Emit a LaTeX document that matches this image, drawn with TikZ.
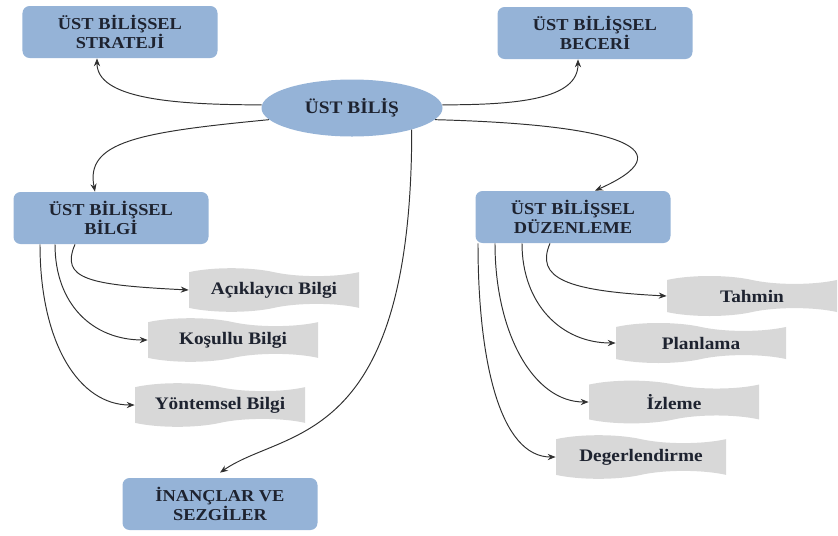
\documentclass[tikz,border=0pt]{standalone}
\usepackage{fontspec}
\setmainfont[FakeStretch=1.1]{Liberation Serif}
\usepackage{tikz}
\usetikzlibrary{arrows.meta,positioning,shapes.geometric,shapes.symbols}
\definecolor{mapblue}{HTML}{95B3D7}
\definecolor{mapgray}{HTML}{D8D8D8}
\definecolor{mapink}{HTML}{1E2330}
\definecolor{mapline}{HTML}{303030}

\begin{document}
\begin{tikzpicture}[
  box/.style={fill=mapblue, rounded corners=4pt, minimum width=3.9cm, minimum height=1.04cm, align=center, inner sep=2pt, font=\fontsize{9.5}{11}\selectfont\bfseries, text=mapink},
  bubble/.style={ellipse, fill=mapblue, minimum width=3.62cm, minimum height=1.14cm, font=\fontsize{10}{12}\selectfont\bfseries, text=mapink},
  flag/.style={tape, fill=mapgray, tape bend top=out and in, tape bend bottom=in and out, tape bend height=4.5pt, minimum width=3.4cm, minimum height=0.8cm, font=\fontsize{10}{12}\selectfont\bfseries, text=mapink},
  arr/.style={-{Stealth[length=4.5pt,width=3.5pt]}, draw=mapline, line width=0.55pt},
]
\useasboundingbox (0,0) rectangle (16.76,-10.7);

% Centre
\node[bubble] (ustbilis) at (7.04,-2.16) {ÜST BİLİŞ};

% Main boxes
\node[box] (strateji) at (2.40,-0.64) {ÜST BİLİŞSEL\\STRATEJİ};
\node[box] (beceri) at (11.90,-0.66) {ÜST BİLİŞSEL\\BECERİ};
\node[box] (bilgi) at (2.22,-4.36) {ÜST BİLİŞSEL\\BİLGİ};
\node[box] (duzenleme) at (11.46,-4.34) {ÜST BİLİŞSEL\\DÜZENLEME};
\node[box] (inanc) at (4.40,-10.08) {İNANÇLAR VE\\SEZGİLER};

% Knowledge banners
\node[flag] (aciklayici) at (5.48,-5.80) {Açıklayıcı Bilgi};
\node[flag] (kosullu) at (4.66,-6.80) {Koşullu Bilgi};
\node[flag] (yontemsel) at (4.40,-8.10) {Yöntemsel Bilgi};

% Regulation banners
\node[flag] (tahmin) at (15.04,-5.92) {Tahmin};
\node[flag] (planlama) at (14.02,-6.86) {Planlama};
\node[flag] (izleme) at (13.48,-8.04) {İzleme};
\node[flag] (degerlendirme) at (12.82,-9.14) {Degerlendirme};

% Arrows out of the centre
\draw[arr] (ustbilis.178) .. controls +(-1.8,0) and +(0,-0.8) .. ([xshift=-0.46cm]strateji.south);
\draw[arr] (ustbilis.2) .. controls +(1.5,0) and +(0,-0.8) .. ([xshift=-0.34cm]beceri.south);
\draw[arr] (ustbilis.188) .. controls +(-2.6,-0.25) and +(-0.2,1.0) .. ([xshift=-0.32cm]bilgi.north);
\draw[arr] (ustbilis.352) .. controls +(3.8,-0.1) and +(1.8,0.8) .. ([xshift=0.44cm]duzenleme.north);
\draw[arr] (ustbilis.-20) .. controls +(0,-6.4) and +(1.3,0.9) .. ([yshift=0.1cm]inanc.north);

% First banner on each side
\draw[arr] ([xshift=-0.72cm]bilgi.south) .. controls +(-0.3,-0.7) and +(-2.0,0.1) .. (aciklayici.west);
\draw[arr] ([xshift=-0.46cm]duzenleme.south) .. controls +(-0.3,-0.7) and +(-2.0,0.1) .. (tahmin.west);

% Remaining banners
\foreach \from/\s/\n/\dy in {bilgi/-1.12/kosullu/1.2, bilgi/-1.42/yontemsel/2.0, duzenleme/-1.02/planlama/1.2, duzenleme/-1.56/izleme/1.8, duzenleme/-1.9/degerlendirme/2.4} {
  \draw[arr] ([xshift=\s cm]\from.south) .. controls +(0,-\dy) and +(-1.1,0) .. (\n.west);
}

\end{tikzpicture}
\end{document}
